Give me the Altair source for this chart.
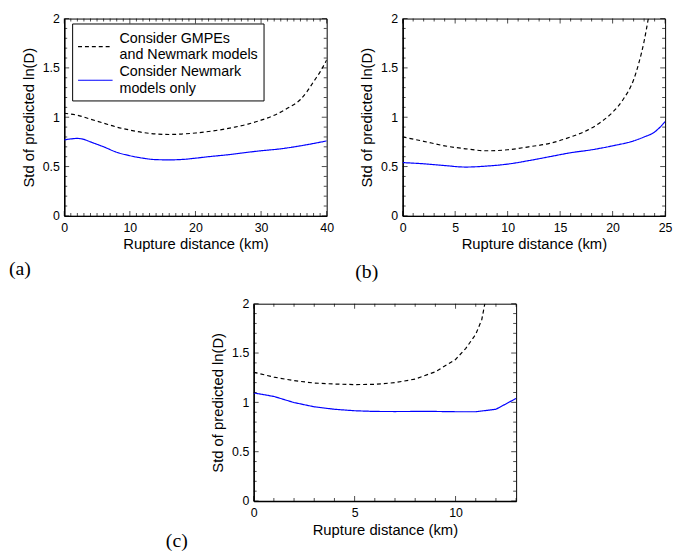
import altair as alt
import pandas as pd

NB = "\u00a0\u00a0"
LBL_GMPE = "Consider GMPEs" + NB + "|and Newmark models" + NB
LBL_NEW = "Consider Newmark" + NB + "|models only" + NB
SERIES = [LBL_GMPE, LBL_NEW]

# ---- panel (a) ----
a_gmpe_x = [0, 2, 4, 6, 8, 10, 12, 14, 16, 18, 20, 22, 24, 26, 28, 30, 32, 34, 36, 37, 38, 39, 40]
a_gmpe_y = [1.04, 1.02, 0.98, 0.94, 0.90, 0.87, 0.845, 0.83, 0.825, 0.83, 0.84, 0.855, 0.875,
            0.90, 0.93, 0.97, 1.02, 1.09, 1.18, 1.26, 1.36, 1.46, 1.58]
a_new_x = [0, 1, 2, 3, 4, 6, 8, 10, 12, 14, 16, 18, 20, 22, 25, 28, 30, 33, 36, 40]
a_new_y = [0.77, 0.78, 0.785, 0.775, 0.75, 0.70, 0.645, 0.61, 0.585, 0.57, 0.568, 0.572, 0.585,
           0.60, 0.62, 0.645, 0.66, 0.68, 0.71, 0.76]

# ---- panel (b) ----
b_gmpe_x = [0, 2, 4, 6, 8, 10, 12, 14, 16, 18, 19, 20, 21, 22, 22.5, 23, 23.4]
b_gmpe_y = [0.80, 0.756, 0.71, 0.68, 0.66, 0.67, 0.70, 0.735, 0.80, 0.89, 0.96, 1.05, 1.18,
            1.38, 1.55, 1.77, 2.0]
b_new_x = [0, 2, 4, 6, 8, 10, 12, 14, 16, 18, 20, 22, 23, 24, 25]
b_new_y = [0.54, 0.528, 0.51, 0.495, 0.505, 0.525, 0.56, 0.60, 0.64, 0.67, 0.71, 0.76, 0.80,
           0.85, 0.955]

# ---- panel (c) ----
c_gmpe_x = [0, 1, 2, 3, 4, 5, 6, 7, 8, 9, 10, 10.5, 11, 11.3, 11.45]
c_gmpe_y = [1.305, 1.256, 1.22, 1.196, 1.186, 1.18, 1.183, 1.20, 1.236, 1.31, 1.435, 1.545,
            1.69, 1.84, 2.0]
c_new_x = [0, 1, 2, 3, 4, 5, 6, 7, 8, 9, 10, 11, 12, 13]
c_new_y = [1.096, 1.06, 0.998, 0.955, 0.93, 0.915, 0.908, 0.907, 0.908, 0.908, 0.905, 0.905,
           0.93, 1.04]

# ---- axes ----
y_ticks = [0, 0.5, 1, 1.5, 2]
a_xticks = [0, 10, 20, 30, 40]
b_xticks = [0, 5, 10, 15, 20, 25]
c_xticks = [0, 5, 10]

W, H = 266, 200
FONT = "Liberation Sans"
SERIF = "Liberation Serif"


def tick_layers(xmax, xmaj, ymaj, xstep, ystep):
    xmin_vals = [i * xstep for i in range(int(round(xmax / xstep)) + 1)]
    xmin_vals = [v for v in xmin_vals if v not in xmaj]
    ymin_vals = [round(i * ystep, 3) for i in range(int(round(2 / ystep)) + 1)]
    ymin_vals = [v for v in ymin_vals if v not in ymaj]
    layers = []
    for vals, size in ((xmaj, 5), (xmin_vals, 3)):
        df = pd.DataFrame({"v": vals})
        for at, off in ((0, -size / 2), (2, size / 2)):
            layers.append(
                alt.Chart(df).mark_tick(orient="vertical", size=size, thickness=1,
                                        color="black", yOffset=off)
                .encode(x=alt.X("v:Q"), y=alt.datum(at))
            )
    for vals, size in ((ymaj, 5), (ymin_vals, 3)):
        df = pd.DataFrame({"v": vals})
        for at, off in ((0, size / 2), (xmax, -size / 2)):
            layers.append(
                alt.Chart(df).mark_tick(orient="horizontal", size=size, thickness=1,
                                        color="black", xOffset=off)
                .encode(y=alt.Y("v:Q"), x=alt.datum(at))
            )
    return layers


def panel(gx, gy, nx, ny, xmax, xticks, interp, show_legend, label, ldx, loff):
    df = pd.concat([
        pd.DataFrame({"x": gx, "y": gy, "s": LBL_GMPE}),
        pd.DataFrame({"x": nx, "y": ny, "s": LBL_NEW}),
    ])
    if show_legend:
        legend = alt.Legend(
            title=None, orient="none", legendX=8, legendY=5,
            strokeColor="black", fillColor="white", padding=5,
            labelExpr="split(datum.label, '|')", labelFont=FONT, labelFontSize=14.5,
            labelBaseline="line-bottom",
            labelLimit=0, labelOffset=6, symbolType="stroke", symbolSize=1225,
            symbolStrokeWidth=1.2, rowPadding=0, labelColor="black",
        )
    else:
        legend = None
    lines = alt.Chart(df).mark_line(interpolate=interp, clip=True, strokeWidth=1.2).encode(
        x=alt.X("x:Q", scale=alt.Scale(domain=[0, xmax], nice=False),
                axis=alt.Axis(title="Rupture distance (km)", values=xticks, format="~g")),
        y=alt.Y("y:Q", scale=alt.Scale(domain=[0, 2], nice=False),
                axis=alt.Axis(title="Std of predicted ln(D)", values=y_ticks, format="~g")),
        color=alt.Color("s:N", scale=alt.Scale(domain=SERIES, range=["black", "#0000ff"]),
                        legend=legend),
        strokeDash=alt.StrokeDash("s:N", scale=alt.Scale(domain=SERIES, range=[[4, 3], [1, 0]]),
                                  legend=legend),
        detail="s:N",
    )
    return alt.layer(lines, *tick_layers(xmax, xticks, y_ticks, 1, 0.1)).properties(
        width=W, height=H,
        title=alt.TitleParams(label, orient="bottom", anchor="start", frame="group",
                              dx=ldx, offset=loff, font=SERIF, fontSize=20,
                              fontWeight="normal", color="black"),
    )


pa = panel(a_gmpe_x, a_gmpe_y, a_new_x, a_new_y, 40, a_xticks, "monotone", True, "(a)", -56, 7)
pb = panel(b_gmpe_x, b_gmpe_y, b_new_x, b_new_y, 25, b_xticks, "monotone", False, "(b)", -48, 10)
pc = panel(c_gmpe_x, c_gmpe_y, c_new_x, c_new_y, 13, c_xticks, "linear", False, "(c)", -89, -6)

spacer = alt.Chart(pd.DataFrame({"x": [0]})).mark_point(opacity=0).properties(
    width=172, height=H, view=alt.ViewBackground(strokeOpacity=0))

row1 = alt.hconcat(pa, pb, spacing=77, bounds="flush").resolve_scale(
    color="independent", strokeDash="independent")
row2 = alt.hconcat(spacer, pc, spacing=20, bounds="flush").resolve_scale(
    color="independent", strokeDash="independent")

chart = alt.vconcat(row1, row2, spacing=15, bounds="full").resolve_scale(
    color="independent", strokeDash="independent"
).properties(padding=0).configure(font=FONT).configure_view(
    stroke="black", strokeWidth=1
).configure_axis(
    labelFont=FONT, labelFontSize=12.5, labelColor="black", titleFont=FONT, titleFontSize=15,
    titleFontWeight="normal", titleColor="black", domainColor="black", domainWidth=1.5,
    ticks=False, tickSize=0, grid=False, labelFlush=False,
).configure_axisX(labelPadding=6, titlePadding=3).configure_axisY(labelPadding=5, titlePadding=6)

chart.save("out.html", embed_options={"renderer": "svg", "actions": False})
